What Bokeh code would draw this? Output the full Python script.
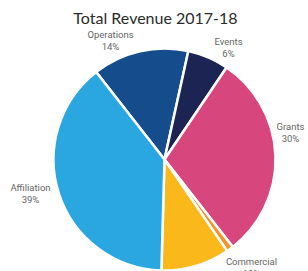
import math
from bokeh.plotting import figure
from bokeh.models import Range1d, ColumnDataSource
from bokeh.core.properties import value
from bokeh.embed import file_html
from bokeh.resources import INLINE

# ---- data ----
title_text = "Total Revenue 2017-18"
names = ["Operations", "Events", "Grants", "Other", "Commercial", "Affiliation"]
values = [14, 6, 30, 1, 10, 39]
colors = ["#154c8c", "#1b2453", "#d8467e", "#f39328", "#fbb81a", "#2aa7e0"]
show_label = [True, True, True, False, True, True]

# ---- layout (page pixel space converted to data) ----
W, H = 308, 271
def px(x):
    return x
def py(y):
    return H - y

cx, cy, r = px(164), py(159), 111
start_top = 322.0  # degrees clockwise from 12 o'clock

# label anchor positions (page px) for name line
label_pos = {
    "Operations": (110, 34),
    "Events": (228, 41),
    "Grants": (290, 126),
    "Commercial": (251, 261),
    "Affiliation": (30, 187),
}

total = float(sum(values))
starts, ends = [], []
acc = start_top
for v in values:
    a = acc
    b = acc + 360.0 * v / total
    starts.append(math.radians(90 - b))
    ends.append(math.radians(90 - a))
    acc = b

src = ColumnDataSource(dict(start=starts, end=ends, color=colors, name=names))

p = figure(width=W, height=H, output_backend="svg", toolbar_location=None,
           x_range=Range1d(0, W), y_range=Range1d(0, H),
           min_border=0, outline_line_color=None)
p.axis.visible = False
p.grid.visible = False
p.background_fill_color = "white"
p.border_fill_color = "white"

p.wedge(x=cx, y=cy, radius=r, start_angle="start", end_angle="end",
        fill_color="color", line_color="white", line_width=2.5, source=src)

p.text(x=[px(155)], y=[py(17)], text=[title_text], text_font=value("Lato"),
       text_font_size="16px", text_color="#2b2b2b",
       text_align="center", text_baseline="middle")

lx, ly1, ly2, t1, t2 = [], [], [], [], []
for n, v, s in zip(names, values, show_label):
    if not s:
        continue
    x, y = label_pos[n]
    lx.append(px(x)); ly1.append(py(y)); ly2.append(py(y + 12))
    t1.append(n); t2.append(f"{v}%")

p.text(x=lx, y=ly1, text=t1, text_font=value("Roboto"), text_font_size="9.5px",
       text_color="#666666", text_align="center", text_baseline="middle")
p.text(x=lx, y=ly2, text=t2, text_font=value("Roboto"), text_font_size="9.5px",
       text_color="#666666", text_align="center", text_baseline="middle")

open("out.html", "w").write(file_html(p, INLINE))
